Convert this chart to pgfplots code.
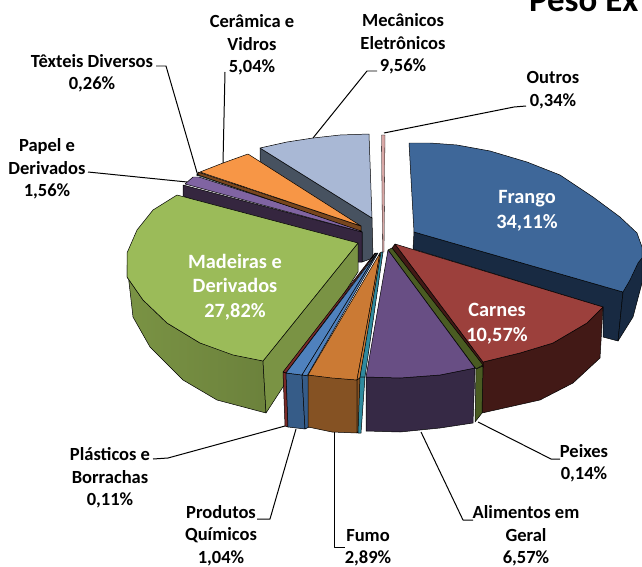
\documentclass[border=0pt]{standalone}
\usepackage{pgfplots}
\pgfplotsset{compat=1.18}
\usepackage{fontspec}
\setmainfont{Carlito}
\definecolor{fr}{RGB}{62,103,153}\definecolor{frd}{RGB}{24,42,66}
\definecolor{ca}{RGB}{156,64,60}\definecolor{cad}{RGB}{66,25,22}
\definecolor{ma}{RGB}{155,187,89}\definecolor{mad}{RGB}{122,147,68}
\definecolor{al}{RGB}{104,78,132}\definecolor{ald}{RGB}{54,41,69}
\definecolor{fu}{RGB}{203,122,52}\definecolor{fud}{RGB}{133,82,35}
\definecolor{te}{RGB}{47,138,158}\definecolor{bl}{RGB}{79,129,189}\definecolor{bld}{RGB}{54,92,136}
\definecolor{me}{RGB}{169,184,213}\definecolor{med}{RGB}{71,82,96}
\definecolor{ce}{RGB}{247,150,70}\definecolor{ced}{RGB}{120,70,30}
\definecolor{pa}{RGB}{128,100,162}\definecolor{pad}{RGB}{53,38,63}
\definecolor{ou}{RGB}{217,168,166}\definecolor{pe}{RGB}{74,91,34}\definecolor{pl}{RGB}{122,42,40}
\tikzset{lab/.style={font=\bfseries\fontsize{18.6}{22.5}\selectfont,align=center,text=black,inner sep=0pt},
 wlab/.style={font=\bfseries\fontsize{20.4}{24.8}\selectfont,align=center,text=white,inner sep=0pt}}
\begin{document}
\begin{tikzpicture}
\clip (0,0) rectangle (642bp,567bp);
\begin{axis}[at={(0,0)},anchor=south west,scale only axis,width=642bp,height=567bp,
 xmin=0,xmax=642,ymin=0,ymax=567,y dir=reverse,hide axis,clip=false,
 every axis plot/.append style={line width=0.5pt,draw=black,line join=round}]
% Mecanicos
\addplot[fill=med] coordinates {(260,148)(372,218)(373,258)(362,262)(362,232)(260,170)} -- cycle;
\addplot[fill=me] coordinates {(260,148)(287,142)(313,138)(340,135)(369,134)(372,218)} -- cycle;
% Outros
\addplot[fill=ou,line width=0.3pt] coordinates {(381.5,135)(385,135)(384,252)(382.5,252)} -- cycle;
% Frango
\addplot[fill=frd] coordinates {(414,232)(623,292)(618,341)(603,337)(603,307)(413,249)} -- cycle;
\addplot[fill=frd] coordinates {(642,250)(642,283)(633,317)(618,341)(623,292)} -- cycle;
\addplot[fill=fr] coordinates {(409,143)(430,143)(457,145)(490,151)(527,162)(560,175)(593,197)(620,217)(637,233)(642,247)(642,258)(638,263)(630,280)(623,292)(414,232)} -- cycle;
% Papel
\addplot[fill=pad] coordinates {(183,185)(362,232)(362,262)(358,262)(183,196)} -- cycle;
\addplot[fill=pa] coordinates {(185,184)(193,177)(199,177)(357,228)(362,232)} -- cycle;
% Textil and Ceramica
\addplot[fill=te,line width=0.3pt] coordinates {(196,175)(199,174)(358,227)(355,228)} -- cycle;
\addplot[fill=ced] coordinates {(198,172)(361,226)(361,231)(198,175)} -- cycle;
\addplot[fill=ce] coordinates {(200,172)(223,163)(248,154)(361,226)} -- cycle;
% Madeiras
\addplot[shade,left color=mad,right color=mad!88!black,draw=black] coordinates {(127,265)(133,317)(150,347)(183,380)(217,400)(266,413)(263,361)(200,343)(167,323)(143,300)(127,277)} -- cycle;
\addplot[fill=mad] coordinates {(263,361)(358,243)(358,272)(266,413)} -- cycle;
\addplot[fill=ma] coordinates {(177,195)(153,210)(137,230)(127,253)(127,277)(143,300)(167,323)(200,343)(233,355)(263,361)(358,243)} -- cycle;
% Plasticos
\addplot[fill=pl] coordinates {(283,372)(286,373)(376,253)(375,253)} -- cycle;
\addplot[fill=pl] coordinates {(283,372)(286,373)(288,427)(285,426)} -- cycle;
% Produtos
\addplot[fill=bld] coordinates {(286,373)(302,375)(305,429)(288,427)} -- cycle;
\addplot[fill=bl] coordinates {(286,373)(302,375)(377,253)} -- cycle;
\addplot[fill=bl] coordinates {(302,375)(307,376)(378,253)(377,253)} -- cycle;
\addplot[fill=bld] coordinates {(302,375)(309,376)(309,427)(305,429)} -- cycle;
% Fumo
\addplot[fill=fud] coordinates {(308,375)(357,380)(357,433)(332,432)(308,427)} -- cycle;
\addplot[fill=fu] coordinates {(308,375)(332,378)(357,380)(380,253)} -- cycle;
\addplot[fill=fu] coordinates {(357,380)(360,378)(382,252)(380,253)} -- cycle;
\addplot[fill=fud] coordinates {(357,380)(360,378)(360,430)(357,433)} -- cycle;
% Teal
\addplot[fill=te] coordinates {(360,377)(365,377)(383,252)(381,252)} -- cycle;
\addplot[fill=te] coordinates {(360,377)(365,377)(361,433)(358,433)} -- cycle;
% Carnes and Peixes
\addplot[fill=cad] coordinates {(483,362)(482,413)(540,400)(573,383)(600,358)(603,307)(587,323)(553,343)(520,353)} -- cycle;
\addplot[fill=cad] coordinates {(395,244)(483,362)(483,368)(392,248)} -- cycle;
\addplot[fill=ca] coordinates {(395,244)(603,307)(587,323)(553,343)(520,353)(483,362)} -- cycle;
\addplot[fill=pe] coordinates {(392,248)(483,365)(476,369)(388,250)} -- cycle;
\addplot[fill=pe] coordinates {(476,369)(483,366)(482,413)(475,422)} -- cycle;
% Alimentos
\addplot[fill=ald] coordinates {(366,377)(400,378)(440,375)(475,368)(473,423)(440,428)(400,432)(366,431)} -- cycle;
\addplot[fill=al] coordinates {(388,250)(475,368)(440,375)(400,378)(366,377)} -- cycle;
% leaders
\addplot[line width=1pt] coordinates {(384,133)(514,107)(526,106)};
\addplot[line width=1pt] coordinates {(377,71)(367,71)(313,138)};
\addplot[line width=1pt] coordinates {(225,72)(223,163)};
\addplot[line width=1pt] coordinates {(156,66)(166,66)(198,176)};
\addplot[line width=1pt] coordinates {(88,172)(187,182)};
\addplot[line width=1pt] coordinates {(153,459)(168,458)(285,426)};
\addplot[line width=1pt] coordinates {(257,519)(270,519)(296,429)};
\addplot[line width=1pt] coordinates {(334,432)(334,547)(345,547)};
\addplot[line width=1pt] coordinates {(421,432)(463,520)(473,520)};
\addplot[line width=1pt] coordinates {(478,422)(551,459)(560,459)};
% labels
\node[wlab] at (axis cs:527,211) {Frango\\34,11\%};
\node[wlab] at (axis cs:235,287) {Madeiras e\\Derivados\\27,82\%};
\node[wlab] at (axis cs:497,324) {Carnes\\10,57\%};
\node[lab] at (axis cs:252,45) {Cerâmica e\\Vidros\\5,04\%};
\node[lab] at (axis cs:403,44) {Mecânicos\\Eletrônicos\\9,56\%};
\node[lab] at (axis cs:92,73) {Têxteis Diversos\\0,26\%};
\node[lab] at (axis cs:553,90) {Outros\\0,34\%};
\node[lab] at (axis cs:47,169) {Papel e\\Derivados\\1,56\%};
\node[lab] at (axis cs:584,463) {Peixes\\0,14\%};
\node[lab] at (axis cs:526,536) {Alimentos em\\Geral\\6,57\%};
\node[lab] at (axis cs:368,548) {Fumo\\2,89\%};
\node[lab] at (axis cs:221,535.5) {Produtos\\Químicos\\1,04\%};
\node[lab] at (axis cs:110,478) {Plásticos e\\Borrachas\\0,11\%};
\node[anchor=base west,inner sep=0pt,font=\bfseries\fontsize{35}{38}\selectfont] at (axis cs:529,12) {Peso Ex};
\end{axis}
\end{tikzpicture}
\end{document}
